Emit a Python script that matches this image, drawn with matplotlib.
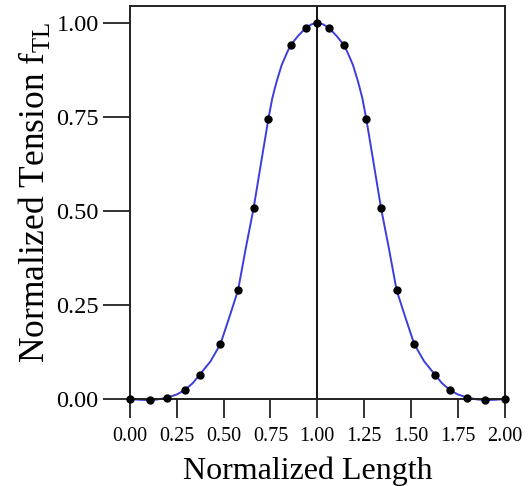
import matplotlib
matplotlib.use('Agg')
import matplotlib.pyplot as plt

# sample points (dots)
length = [0.0, 0.105, 0.2, 0.293, 0.373, 0.483, 0.577, 0.66, 0.739, 0.858, 0.94, 1.0,
          1.06, 1.142, 1.261, 1.34, 1.423, 1.517, 1.627, 1.707, 1.8, 1.895, 2.0]
tension = [0.0, -0.002, 0.004, 0.024, 0.065, 0.146, 0.289, 0.507, 0.745, 0.941, 0.987, 1.0,
           0.987, 0.941, 0.745, 0.507, 0.289, 0.146, 0.065, 0.024, 0.004, -0.002, 0.0]

# points (left half, mirrored at x = 1)
half_x = [0.0, 0.05, 0.105, 0.15, 0.2, 0.25, 0.293, 0.335, 0.373, 0.43, 0.483, 0.529, 0.577,
          0.618, 0.66, 0.70, 0.739, 0.76, 0.783, 0.81, 0.837, 0.858, 0.899, 0.94, 0.97]
half_y = [0.0, -0.002, -0.003, -0.001, 0.004, 0.012, 0.024, 0.042, 0.065, 0.10, 0.146, 0.215,
          0.289, 0.40, 0.507, 0.628, 0.745, 0.800, 0.844, 0.888, 0.919, 0.941, 0.966, 0.987,
          0.996]
curve_x = half_x + [1.0] + [2.0 - v for v in reversed(half_x)]
curve_y = half_y + [1.0] + list(reversed(half_y))

x_ticks = [0.0, 0.25, 0.5, 0.75, 1.0, 1.25, 1.5, 1.75, 2.0]
y_ticks = [0.0, 0.25, 0.5, 0.75, 1.0]

plt.rcParams['font.family'] = ['Liberation Serif', 'DejaVu Serif']
plt.rcParams['mathtext.fontset'] = 'custom'
plt.rcParams['mathtext.rm'] = 'Liberation Serif'

fig = plt.figure(figsize=(5.28, 4.86), dpi=100)
ax = fig.add_axes([0.246, 0.179, 0.71, 0.809])

ax.axvline(1.0, color='black', lw=1.3, zorder=1)
ax.plot(curve_x, curve_y, color='#3d3ddc', lw=1.4, zorder=2, clip_on=False)
ax.plot(length, tension, 'o', color='black', ms=5, zorder=3, clip_on=False)

ax.set_xlim(0, 2)
ax.set_ylim(0, 1.045)
ax.set_xticks(x_ticks)
ax.set_xticklabels(['%.2f' % v for v in x_ticks], fontsize=14.5)
ax.set_yticks(y_ticks)
ax.set_yticklabels(['%.2f' % v for v in y_ticks], fontsize=17.5)

ax.tick_params(axis='x', direction='out', length=14, width=1.3, pad=6, color='#222222')
ax.tick_params(axis='y', direction='out', length=19.5, width=1.3, pad=3, color='#222222')
for sp in ax.spines.values():
    sp.set_linewidth(1.4)
    sp.set_color('#222222')

ax.set_xlabel('Normalized Length', fontsize=23, labelpad=8)
ax.xaxis.label.set_x(0.475)
ax.set_ylabel(r'Normalized Tension $\mathrm{f}_{\mathrm{TL}}$', fontsize=25.5, labelpad=3)
ax.yaxis.label.set_y(0.525)

fig.savefig('out.png', dpi=100)
